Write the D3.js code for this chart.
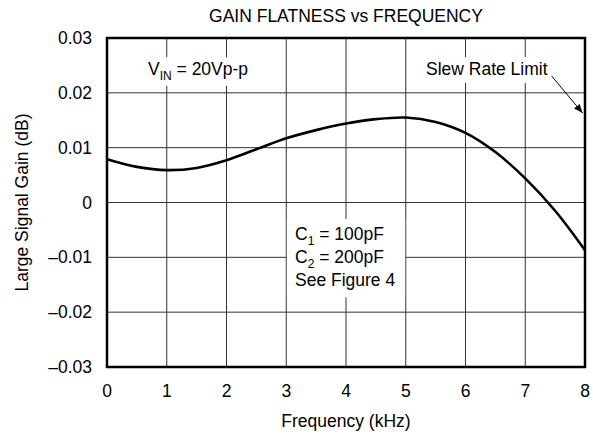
<!DOCTYPE html>
<html>
<head>
<meta charset="utf-8">
<script src="https://cdn.jsdelivr.net/npm/d3@7"></script>
<style>
  body { margin: 0; background: #fff; }
  svg text { font-family: "Liberation Sans", Arial, sans-serif; fill: #000; }
</style>
</head>
<body>
<div class="graph"></div>
<script>
// values
var freq = [0, 0.5, 1, 1.5, 2, 2.5, 3, 3.5, 4, 4.5, 5, 5.5, 6, 6.5, 7, 7.5, 8];
var gain = [0.0079, 0.0065, 0.0059, 0.0063, 0.0077, 0.0097, 0.0117, 0.0132, 0.0144, 0.0152,
            0.0155, 0.0147, 0.0127, 0.0092, 0.0044, -0.0015, -0.0087];
var xTicks = [0, 1, 2, 3, 4, 5, 6, 7, 8];
var yTicks = [-0.03, -0.02, -0.01, 0, 0.01, 0.02, 0.03];
var yLabels = ['\u20130.03', '\u20130.02', '\u20130.01', '0', '0.01', '0.02', '0.03'];

(function () {
    var W = 593, H = 435;
    var pLeft = 107, pTop = 38, pRight = 585, pBottom = 367;
    var fs = 17.5;

    var x = d3.scaleLinear().domain([0, 8]).range([pLeft, pRight]);
    var y = d3.scaleLinear().domain([-0.03, 0.03]).range([pBottom, pTop]);

    var svg = d3.select('.graph').append('svg')
        .attr('width', W)
        .attr('height', H);

    // grid
    var grid = svg.append('g')
        .attr('stroke', '#333')
        .attr('stroke-width', 1);

    grid.selectAll('.vx').data(xTicks.slice(1, -1)).enter().append('line')
        .attr('x1', function (d) { return x(d); })
        .attr('x2', function (d) { return x(d); })
        .attr('y1', pTop).attr('y2', pBottom);

    grid.selectAll('.hy').data(yTicks.slice(1, -1)).enter().append('line')
        .attr('x1', pLeft).attr('x2', pRight)
        .attr('y1', function (d) { return y(d); })
        .attr('y2', function (d) { return y(d); });

    // white boxes behind the notes
    svg.append('rect')
        .attr('x', x(0.55)).attr('y', y(0.0265))
        .attr('width', x(2.55) - x(0.55)).attr('height', y(0.0200) - y(0.0265) - 7)
        .attr('fill', '#fff');
    svg.append('rect')
        .attr('x', x(5.2)).attr('y', y(0.0265))
        .attr('width', x(7.45) - x(5.2)).attr('height', y(0.0200) - y(0.0265) - 10)
        .attr('fill', '#fff');
    svg.append('rect')
        .attr('x', x(3) + 0.6).attr('y', y(-0.0030))
        .attr('width', x(5) - x(3) - 1.2).attr('height', y(-0.0173) - y(-0.0030))
        .attr('fill', '#fff');

    // curve
    var line = d3.line()
        .x(function (d, i) { return x(freq[i]); })
        .y(function (d) { return y(d); })
        .curve(d3.curveCatmullRom.alpha(0.5));

    svg.append('path')
        .datum(gain)
        .attr('d', line)
        .attr('fill', 'none')
        .attr('stroke', '#000')
        .attr('stroke-width', 2.6);

    // frame
    svg.append('rect')
        .attr('x', pLeft).attr('y', pTop)
        .attr('width', pRight - pLeft).attr('height', pBottom - pTop)
        .attr('fill', 'none')
        .attr('stroke', '#000')
        .attr('stroke-width', 2.5);

    // tick labels
    svg.selectAll('.xl').data(xTicks).enter().append('text')
        .attr('x', function (d) { return x(d); })
        .attr('y', 397)
        .attr('text-anchor', 'middle')
        .style('font-size', fs + 'px')
        .text(function (d) { return d; });

    svg.selectAll('.yl').data(yTicks).enter().append('text')
        .attr('x', 92)
        .attr('y', function (d) { return y(d); })
        .attr('dy', '0.35em')
        .attr('text-anchor', 'end')
        .style('font-size', fs + 'px')
        .text(function (d, i) { return yLabels[i]; });

    // titles
    svg.append('text')
        .attr('x', (pLeft + pRight) / 2)
        .attr('y', 22)
        .attr('text-anchor', 'middle')
        .style('font-size', fs + 'px')
        .text('GAIN FLATNESS vs FREQUENCY');

    svg.append('text')
        .attr('x', (pLeft + pRight) / 2)
        .attr('y', 427)
        .attr('text-anchor', 'middle')
        .style('font-size', fs + 'px')
        .text('Frequency (kHz)');

    svg.append('text')
        .attr('transform', 'translate(28,' + y(0) + ') rotate(-90)')
        .attr('text-anchor', 'middle')
        .style('font-size', fs + 'px')
        .text('Large Signal Gain (dB)');

    // notes
    var vin = svg.append('text')
        .attr('x', 148).attr('y', 75)
        .style('font-size', fs + 'px');
    vin.append('tspan').text('V');
    vin.append('tspan').attr('dy', 5).style('font-size', '12px').text('IN');
    vin.append('tspan').attr('dy', -5).text(' = 20Vp-p');

    svg.append('text')
        .attr('x', 426).attr('y', 75)
        .style('font-size', fs + 'px')
        .text('Slew Rate Limit');

    svg.append('defs').append('marker')
        .attr('id', 'ah')
        .attr('viewBox', '0 0 10 10')
        .attr('refX', 10).attr('refY', 5)
        .attr('markerWidth', 9).attr('markerHeight', 9)
        .attr('markerUnits', 'userSpaceOnUse')
        .attr('orient', 'auto')
        .append('path')
        .attr('d', 'M0,1 L10,5 L0,9 Z')
        .attr('fill', '#000');

    svg.append('line')
        .attr('x1', x(7.44)).attr('y1', y(0.0231))
        .attr('x2', x(7.96)).attr('y2', y(0.0163))
        .attr('stroke', '#000')
        .attr('stroke-width', 1)
        .attr('marker-end', 'url(#ah)');

    var notes = [['C', '1', ' = 100pF'], ['C', '2', ' = 200pF'], ['See Figure 4', '', '']];
    notes.forEach(function (n, i) {
        var t = svg.append('text')
            .attr('x', 295).attr('y', 239.5 + i * 23.3)
            .style('font-size', fs + 'px');
        t.append('tspan').text(n[0]);
        if (n[1]) {
            t.append('tspan').attr('dy', 5).style('font-size', '12px').text(n[1]);
            t.append('tspan').attr('dy', -5).text(n[2]);
        }
    });
})();
</script>
</body>
</html>
